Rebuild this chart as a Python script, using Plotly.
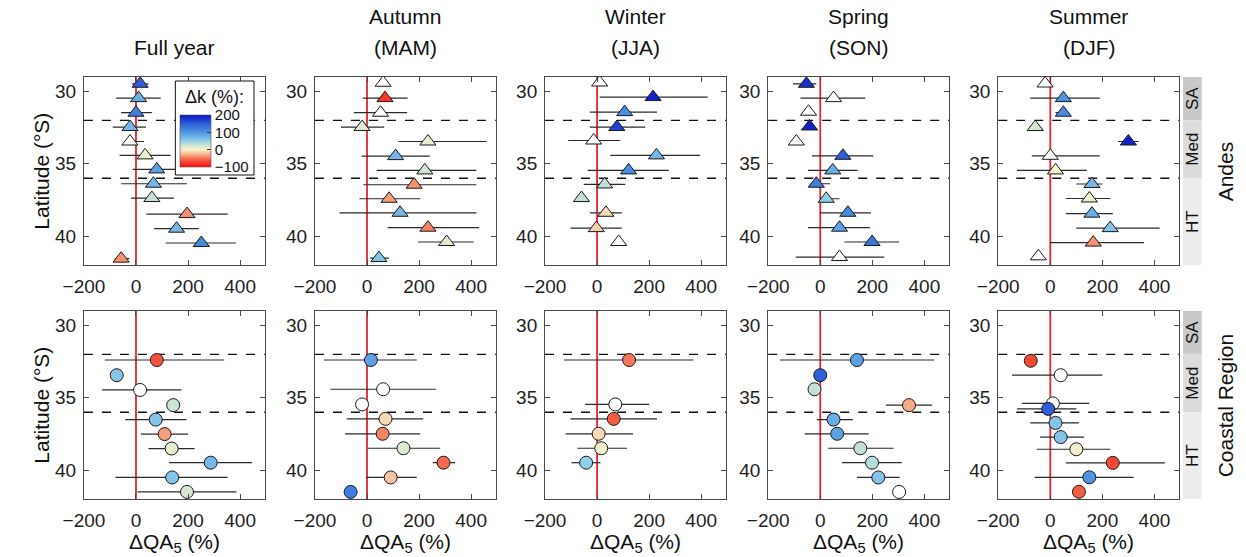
import plotly.graph_objects as go

W, H = 1246, 557

# ---------------- data: ΔQA5 (%) per station, with bounds and Δk (%) ----------------
# None in a DK list = not significant (open marker)

# Andes (triangles)
FY_A_LAT = [29.47, 30.46, 31.47, 32.46, 33.46, 34.42, 35.39, 36.38, 37.37, 38.48, 39.49, 40.48, 41.56]
FY_A_Q   = [16, 10, 0, -23, -23, 35, 80, 67, 61, 196, 156, 251, -57]
FY_A_LO  = [-15, -76, -57, -89, -44, -63, -13, -57, -19, 40, 70, 114, -82]
FY_A_HI  = [48, 95, 61, 38, 31, 133, 200, 196, 146, 352, 241, 384, -25]
FY_A_DK  = [150, 80, 120, 70, None, 5, 90, 70, 30, -40, 70, 110, -40]

AU_A_LAT = [29.40, 30.46, 31.47, 32.46, 33.46, 34.47, 35.46, 36.45, 37.42, 38.39, 39.42, 40.41, 41.52]
AU_A_Q   = [62, 69, 52, -19, 234, 110, 222, 181, 85, 127, 234, 306, 46]
AU_A_LO  = [62, -16, -50, -100, 121, -21, 37, -14, -29, -106, 79, 196, 12]
AU_A_HI  = [62, 156, 154, 66, 460, 241, 420, 420, 204, 420, 430, 410, 84]
AU_A_DK  = [None, -80, None, 15, 10, 70, 25, -40, -35, 70, -45, 15, 60]

WI_A_LAT = [29.38, 30.39, 31.43, 32.46, 33.39, 34.42, 35.46, 36.43, 37.37, 38.39, 39.45, 40.41]
WI_A_Q   = [10, 215, 106, 76, -13, 228, 121, 29, -60, 34, -3, 83]
WI_A_LO  = [10, 10, -28, -28, -111, 51, -36, -51, -60, -28, -102, 83]
WI_A_HI  = [10, 425, 230, 185, 89, 396, 276, 108, -60, 95, 95, 83]
WI_A_DK  = [None, 190, 110, 170, None, 70, 110, 30, 30, -10, -15, None]

SP_A_LAT = [29.47, 30.46, 31.40, 32.42, 33.46, 34.45, 35.46, 36.38, 37.42, 38.39, 39.42, 40.41, 41.45]
SP_A_Q   = [-53, 51, -45, -41, -92, 87, 48, -15, 23, 106, 74, 199, 74]
SP_A_LO  = [-105, -76, -45, -41, -100, -32, -47, -32, 0, 0, -47, 93, -94]
SP_A_HI  = [-15, 173, -45, -41, -84, 204, 144, 38, 74, 195, 191, 303, 246]
SP_A_DK  = [180, None, None, 190, None, 150, 80, 120, 50, 110, 90, 130, None]

SU_A_LAT = [29.45, 30.46, 31.47, 32.46, 33.46, 34.45, 35.46, 36.40, 37.40, 38.45, 39.45, 40.45, 41.40]
SU_A_Q   = [-20, 50, 50, -58, 300, 0, 20, 160, 150, 160, 230, 165, -46]
SU_A_LO  = [-20, -77, 20, -80, 260, -71, -128, 100, 60, 60, 100, 0, -46]
SU_A_HI  = [-20, 190, 70, -40, 340, 190, 140, 200, 230, 240, 420, 360, -46]
SU_A_DK  = [None, 100, 110, 20, 190, None, 0, 70, 5, 80, 60, -40, None]

# Coastal region (circles)
FY_C_LAT = [32.39, 33.44, 34.46, 35.51, 36.51, 37.51, 38.51, 39.49, 40.51, 41.51]
FY_C_Q   = [80, -74, 16, 143, 76, 110, 137, 287, 139, 196]
FY_C_LO  = [-120, -74, -130, 143, -41, 19, 48, 127, -79, 6]
FY_C_HI  = [339, -74, 175, 143, 194, 200, 225, 446, 352, 386]
FY_C_DK  = [-65, 60, None, 25, 60, -35, 10, 70, 60, 20]

AU_C_LAT = [32.39, 34.41, 35.46, 36.46, 37.49, 38.49, 39.49, 40.51, 41.51]
AU_C_Q   = [15, 62, -19, 71, 60, 140, 294, 91, -63]
AU_C_LO  = [-166, -141, -37, -78, -84, 4, 252, -4, -63]
AU_C_HI  = [191, 265, 0, 216, 204, 281, 338, 191, -63]
AU_C_DK  = [90, None, None, -10, -45, 15, -55, -20, 120]

WI_C_LAT = [32.39, 35.46, 36.46, 37.49, 38.49, 39.49]
WI_C_Q   = [123, 70, 64, 6, 16, -42]
WI_C_LO  = [-127, -45, -102, -121, -76, -99]
WI_C_HI  = [370, 200, 230, 138, 115, 13]
WI_C_DK  = [-50, None, -60, -10, 5, 50]

SP_C_LAT = [32.39, 33.44, 34.41, 35.51, 36.51, 37.49, 38.49, 39.49, 40.51, 41.51]
SP_C_Q   = [141, 0, -22, 341, 51, 65, 154, 199, 223, 303]
SP_C_LO  = [-155, 0, -22, 252, -13, -60, 29, 84, 141, 303]
SP_C_HI  = [437, 0, -22, 430, 125, 186, 282, 313, 305, 303]
SP_C_DK  = [90, 150, 30, -30, 80, 90, 30, 35, 60, None]

SU_C_LAT = [32.44, 33.44, 35.39, 35.77, 36.74, 37.72, 38.56, 39.50, 40.50, 41.50]
SU_C_Q   = [-75, 40, 10, -8, 20, 40, 100, 240, 150, 110]
SU_C_LO  = [-75, -147, -109, -128, -77, -39, -52, 60, -60, 110]
SU_C_HI  = [-75, 200, 150, 100, 110, 130, 230, 440, 320, 110]
SU_C_DK  = [-70, None, None, 150, 60, 60, 5, -70, 100, -60]

SEASON_TITLES = [["Full year"], ["Autumn", "(MAM)"], ["Winter", "(JJA)"],
                 ["Spring", "(SON)"], ["Summer", "(DJF)"]]
ROW_NAMES = ["Andes", "Coastal Region"]
ZONES = [("SA", 29, 32), ("Med", 32, 36), ("HT", 36, 42)]
X_TICKS = [-200, 0, 200, 400]
Y_TICKS = [30, 35, 40]
DK_TICKS = [-100, 0, 100, 200]

PANELS = [
    [(FY_A_LAT, FY_A_Q, FY_A_LO, FY_A_HI, FY_A_DK),
     (AU_A_LAT, AU_A_Q, AU_A_LO, AU_A_HI, AU_A_DK),
     (WI_A_LAT, WI_A_Q, WI_A_LO, WI_A_HI, WI_A_DK),
     (SP_A_LAT, SP_A_Q, SP_A_LO, SP_A_HI, SP_A_DK),
     (SU_A_LAT, SU_A_Q, SU_A_LO, SU_A_HI, SU_A_DK)],
    [(FY_C_LAT, FY_C_Q, FY_C_LO, FY_C_HI, FY_C_DK),
     (AU_C_LAT, AU_C_Q, AU_C_LO, AU_C_HI, AU_C_DK),
     (WI_C_LAT, WI_C_Q, WI_C_LO, WI_C_HI, WI_C_DK),
     (SP_C_LAT, SP_C_Q, SP_C_LO, SP_C_HI, SP_C_DK),
     (SU_C_LAT, SU_C_Q, SU_C_LO, SU_C_HI, SU_C_DK)],
]
SYMBOLS = ["triangle-up", "circle"]
SIZES = [14, 13]

# ---------------- layout geometry (pixels) ----------------
COL_LEFT = [64, 299, 533, 760, 994]
PANEL_W = 184
ROW_TOP = [77, 311]
PANEL_H = 188
X_RANGE = [-200, 495]
Y_RANGE = [42, 29]

FONT = "Liberation Sans, Arial, sans-serif"
DK_SCALE = [
    [0.000, "#ff0c0c"],
    [0.130, "#f25a40"],
    [0.230, "#f6a884"],
    [0.333, "#f8f2cc"],
    [0.420, "#cde3d2"],
    [0.500, "#90d0ea"],
    [0.667, "#4d95e2"],
    [0.833, "#2f5fd8"],
    [1.000, "#0b12c6"],
]

def px(x):
    return x / W

def py(y):
    return 1 - y / H

fig = go.Figure()
shapes, annotations = [], []
layout_axes = {}

for r in range(2):
    for c in range(5):
        n = r * 5 + c + 1
        xa = "x" if n == 1 else f"x{n}"
        ya = "y" if n == 1 else f"y{n}"
        left, top = COL_LEFT[c], ROW_TOP[r]
        axis_common = dict(showline=True, linecolor="#4a4a4a", linewidth=1, mirror="ticks",
                           ticks="inside", ticklen=5, tickcolor="#4a4a4a", showgrid=False,
                           zeroline=False, tickfont=dict(family=FONT, size=19, color="#1e1e1e"))
        layout_axes["xaxis" if n == 1 else f"xaxis{n}"] = dict(
            domain=[px(left), px(left + PANEL_W)], anchor=ya, range=X_RANGE,
            tickvals=X_TICKS, ticklabelstandoff=4, **axis_common)
        layout_axes["yaxis" if n == 1 else f"yaxis{n}"] = dict(
            domain=[py(top + PANEL_H), py(top)], anchor=xa, range=Y_RANGE,
            tickvals=Y_TICKS, ticklabelstandoff=3, **axis_common)

        lat, q, lo, hi, dk = PANELS[r][c]
        filled = [i for i in range(len(lat)) if dk[i] is not None]
        opened = [i for i in range(len(lat)) if dk[i] is None]
        for idx, fill in ((opened, None), (filled, True)):
            if not idx:
                continue
            marker = dict(symbol=SYMBOLS[r], size=SIZES[r], line=dict(color="#1a1a1a", width=1))
            if fill:
                marker.update(color=[dk[i] for i in idx], coloraxis="coloraxis")
            else:
                marker.update(color="white")
            fig.add_trace(go.Scatter(
                x=[q[i] for i in idx], y=[lat[i] for i in idx], xaxis=xa, yaxis=ya,
                mode="markers", marker=marker, showlegend=False,
                error_x=dict(type="data", symmetric=False,
                             array=[hi[i] - q[i] for i in idx],
                             arrayminus=[q[i] - lo[i] for i in idx],
                             color="#2a2a2a", thickness=1.2, width=0),
            ))

        # zero reference line
        shapes.append(dict(type="line", xref=xa, yref=f"{ya} domain", x0=0, x1=0, y0=0, y1=1,
                           line=dict(color="#e3262b", width=1.8), layer="below"))
        # zone boundaries
        for b in (32, 36):
            shapes.append(dict(type="line", xref=f"{xa} domain", yref=ya, x0=0, x1=1, y0=b, y1=b,
                               line=dict(color="#111111", width=1.3, dash="dash"), layer="below"))

# column titles
for c, lines in enumerate(SEASON_TITLES):
    cx = px(COL_LEFT[c] + PANEL_W / 2)
    ys = [47] if len(lines) == 1 else [17, 47]
    for t, yy in zip(lines, ys):
        annotations.append(dict(text=t, x=cx, y=py(yy), xref="paper", yref="paper",
                                xanchor="center", yanchor="middle", showarrow=False,
                                font=dict(family=FONT, size=21, color="#111")))

# axis titles
for r in range(2):
    annotations.append(dict(text="Latitude (°S)", x=px(20), y=py(ROW_TOP[r] + PANEL_H / 2),
                            xref="paper", yref="paper", textangle=-90, showarrow=False,
                            xanchor="center", yanchor="middle",
                            font=dict(family=FONT, size=21, color="#111")))
for c in range(5):
    annotations.append(dict(text="ΔQA<sub>5</sub> (%)", x=px(COL_LEFT[c] + PANEL_W / 2), y=py(543),
                            xref="paper", yref="paper", showarrow=False,
                            xanchor="center", yanchor="middle",
                            font=dict(family=FONT, size=21, color="#111")))

# zone strip and region names on the right
STRIP_X0, STRIP_X1 = 1182, 1201
ZONE_FILL = {"SA": "#c9c9c9", "Med": "#dcdcdc", "HT": "#ededed"}
for r in range(2):
    ya = "y" if r == 0 else "y6"
    for name, y0, y1 in ZONES:
        shapes.append(dict(type="rect", xref="paper", yref=ya, x0=px(STRIP_X0), x1=px(STRIP_X1),
                           y0=y0, y1=y1, fillcolor=ZONE_FILL[name], line=dict(width=0)))
        annotations.append(dict(text=name, xref="paper", yref=ya, x=px((STRIP_X0 + STRIP_X1) / 2),
                                y=(y0 + y1) / 2, textangle=-90, showarrow=False,
                                xanchor="center", yanchor="middle",
                                font=dict(family=FONT, size=17, color="#111")))
    annotations.append(dict(text=ROW_NAMES[r], xref="paper", yref="paper", x=px(1225),
                            y=py(ROW_TOP[r] + PANEL_H / 2), textangle=-90, showarrow=False,
                            xanchor="center", yanchor="middle",
                            font=dict(family=FONT, size=21, color="#111")))

# Δk legend box inside the first panel
LEG = dict(x0=157, x1=237, y0=81, y1=175)
shapes.append(dict(type="rect", xref="paper", yref="paper", x0=px(LEG["x0"]), x1=px(LEG["x1"]),
                   y0=py(LEG["y1"]), y1=py(LEG["y0"]), fillcolor="white",
                   line=dict(color="#111", width=1), layer="above"))
annotations.append(dict(text="Δk (%):", xref="paper", yref="paper", x=px(197), y=py(97),
                        xanchor="center", yanchor="middle", showarrow=False,
                        font=dict(family=FONT, size=18, color="#111")))

fig.update_layout(
    width=W, height=H, margin=dict(l=0, r=0, t=0, b=0),
    paper_bgcolor="white", plot_bgcolor="white", showlegend=False,
    shapes=shapes, annotations=annotations,
    coloraxis=dict(colorscale=DK_SCALE, cmin=-100, cmax=200,
                   colorbar=dict(x=px(162), xanchor="left", y=py(115), yanchor="top",
                                 lenmode="pixels", len=52, thicknessmode="pixels", thickness=31,
                                 xpad=0, ypad=0, tickvals=DK_TICKS, ticks="inside", ticklen=4,
                                 tickcolor="#333", outlinewidth=0.6, outlinecolor="#555",
                                 tickfont=dict(family=FONT, size=15, color="#111"))),
    **layout_axes,
)

fig.write_html("out.html")
